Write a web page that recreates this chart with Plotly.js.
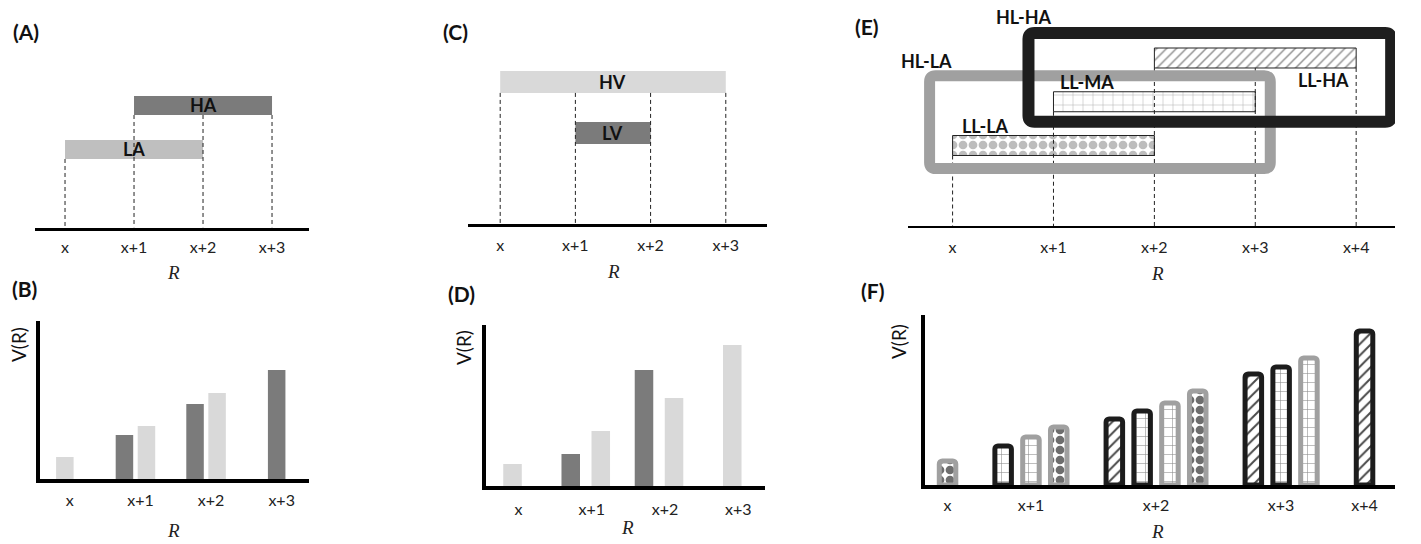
<!DOCTYPE html>
<html><head><meta charset="utf-8">
<script src="https://cdn.plot.ly/plotly-3.0.1.min.js"></script>
<style>html,body{margin:0;padding:0;background:#fff}#chart{width:1421px;height:544px}</style>
</head><body><div id="chart"></div>
<script>
// ---------------- data ----------------
const ticks4 = ['x','x+1','x+2','x+3'];
const ticks5 = ['x','x+1','x+2','x+3','x+4'];

// (A) R ranges covered
const aNames = ['LA','HA'];
const aStart = [0, 1];
const aEnd   = [2, 3];

// (B) V(R)
const bHA = [null, 44, 75, 109];
const bLA = [22, 53, 86, null];

// (C) R ranges covered
const cNames = ['LV','HV'];
const cStart = [1, 0];
const cEnd   = [2, 3];

// (D) V(R)
const dLV = [null, 32, 116, null];
const dHV = [22, 55, 88, 141];

// (E) R ranges covered by each low-level set
const eNames = ['LL-LA','LL-MA','LL-HA'];
const eStart = [0, 1, 2];
const eEnd   = [2, 3, 4];
// high-level groups and their members
const hlNames = ['HL-LA','HL-HA'];
const hlMembers = [['LL-LA','LL-MA'], ['LL-MA','LL-HA']];

// (F) V(R)
const fHA_LLHA = [null, null, 66, 111, 154];
const fHA_LLMA = [null, 39, 74, 118, null];
const fLA_LLMA = [null, 48, 82, 127, null];
const fLA_LLLA = [24, 58, 94, null, null];

// ---------------- helpers ----------------
const W = 1421, H = 544;
const px = x => x / W, py = y => 1 - y / H;
const dX = (l, r) => [l / W, r / W];
const dY = (t, b) => [1 - b / H, 1 - t / H];
const FONT = 'Lato, "Open Sans", sans-serif';
const DARK = '#7b7b7b', LIGHT = '#d9d9d9', MID = '#bfbfbf';
const TICKSIZE = 16, BOLDSIZE = 18;

const traces = [], shapes = [], annotations = [];
const layout = {
  width: W, height: H, margin: {l: 0, r: 0, t: 0, b: 0},
  paper_bgcolor: '#fff', plot_bgcolor: 'rgba(0,0,0,0)',
  showlegend: false, barmode: 'overlay', font: {family: FONT, color: '#111'},
  shapes, annotations
};

function setAxes(id, dom, xr, yr, tickv, tickt, opts) {
  layout['xaxis' + id] = {
    domain: dX(dom[0], dom[1]), range: xr, anchor: 'y' + id,
    showline: true, linecolor: '#000', linewidth: opts.xlw,
    showgrid: false, zeroline: false, ticks: '',
    tickvals: tickv, ticktext: tickt,
    tickfont: {size: TICKSIZE, family: FONT, color: '#222'},
    ticklabelshift: opts.shift || 0, ticklabelstandoff: opts.standoff || 0,
    fixedrange: true
  };
  layout['yaxis' + id] = opts.yline ? {
    domain: dY(dom[2], dom[3]), range: yr, anchor: 'x' + id,
    showline: true, linecolor: '#000', linewidth: opts.ylw,
    showgrid: false, zeroline: false, ticks: '', showticklabels: false, fixedrange: true
  } : {
    domain: dY(dom[2], dom[3]), range: yr, anchor: 'x' + id, visible: false, fixedrange: true
  };
}

function dashes(id, nTicks, starts, ends, bw, y0) {
  const xs = [], ys = [];
  for (let t = 0; t < nTicks; t++) {
    let top = -1;
    starts.forEach((s, i) => { if (s <= t && t <= ends[i]) top = Math.max(top, i); });
    if (top < 0) continue;
    xs.push(t, t, null); ys.push(top + 1 - bw / 2, y0, null);
  }
  traces.push({type: 'scatter', mode: 'lines', x: xs, y: ys, xaxis: 'x' + id, yaxis: 'y' + id,
    line: {color: '#222', width: 1, dash: '4px,3px'}, hoverinfo: 'skip'});
}

function rangeBars(id, names, starts, ends, colors, bw) {
  names.forEach((n, i) => {
    traces.push({type: 'bar', orientation: 'h', xaxis: 'x' + id, yaxis: 'y' + id,
      y: [i + 1], x: [ends[i] - starts[i]], base: [starts[i]], width: bw,
      marker: {color: colors[i], line: {width: 0}}, hoverinfo: 'skip'});
    annotations.push({xref: 'x' + id, yref: 'y' + id, x: (starts[i] + ends[i]) / 2, y: i + 1,
      text: '<b>' + n + '</b>', showarrow: false, xanchor: 'center', yanchor: 'middle',
      font: {size: BOLDSIZE, family: FONT, color: '#111'}});
  });
}

function groupedBars(id, series, colors, pitch, bw) {
  const n = series[0].length;
  const xs = series.map(() => []);
  for (let g = 0; g < n; g++) {
    const present = series.map((s, j) => s[g] != null ? j : -1).filter(j => j >= 0);
    present.forEach((j, k) => { xs[j][g] = g + (k - (present.length - 1) / 2) * pitch; });
    series.forEach((s, j) => { if (s[g] == null) xs[j][g] = null; });
  }
  series.forEach((s, j) => traces.push({type: 'bar', xaxis: 'x' + id, yaxis: 'y' + id,
    x: xs[j], y: s, width: bw, marker: {color: colors[j], line: {width: 0}}, hoverinfo: 'skip'}));
}

function rrect(x0, x1, y0, y1, rx, ry) {
  return `M${x0 + rx},${y0} L${x1 - rx},${y0} Q${x1},${y0} ${x1},${y0 + ry} L${x1},${y1 - ry} Q${x1},${y1} ${x1 - rx},${y1} L${x0 + rx},${y1} Q${x0},${y1} ${x0},${y1 - ry} L${x0},${y0 + ry} Q${x0},${y0} ${x0 + rx},${y0} Z`;
}

function label(text, x, y, size, extra) {
  annotations.push(Object.assign({xref: 'paper', yref: 'paper', x: px(x), y: py(y), text: text,
    showarrow: false, xanchor: 'center', yanchor: 'middle',
    font: {size: size, family: FONT, color: '#111'}}, extra || {}));
}

// ---------------- panel A ----------------
const A = {dom: [35, 309, 10, 227.5], xr: [-0.435, 3.536], yr: [-0.773, 4.17], bw: 0.432};
setAxes('', A.dom, A.xr, A.yr, ticks4.map((_, i) => i), ticks4, {xlw: 3, standoff: 3});
rangeBars('', aNames, aStart, aEnd, [MID, DARK], A.bw);
dashes('', ticks4.length, aStart, aEnd, A.bw, A.yr[0]);

// ---------------- panel B ----------------
const B = {dom: [40, 309, 321, 479], xr: [-0.352, 3.458], yr: [0, 158]};
setAxes('2', B.dom, B.xr, B.yr, ticks4.map((_, i) => i), ticks4, {xlw: 4, yline: true, ylw: 4, shift: 5, standoff: 4});
groupedBars('2', [bHA, bLA], [DARK, LIGHT], 0.312, 0.248);

// ---------------- panel C ----------------
const C = {dom: [468, 767, 10, 223.5], xr: [-0.428, 3.548], yr: [-0.775, 3.41], bw: 0.431};
setAxes('3', C.dom, C.xr, C.yr, ticks4.map((_, i) => i), ticks4, {xlw: 3, standoff: 5});
rangeBars('3', cNames, cStart, cEnd, [DARK, LIGHT], C.bw);
dashes('3', ticks4.length, cStart, cEnd, C.bw, C.yr[0]);

// ---------------- panel D ----------------
const D = {dom: [486, 765, 325, 486], xr: [-0.362, 3.447], yr: [0, 161]};
setAxes('4', D.dom, D.xr, D.yr, ticks4.map((_, i) => i), ticks4, {xlw: 4, yline: true, ylw: 4, shift: 6, standoff: 6});
groupedBars('4', [dLV, dHV], [DARK, LIGHT], 0.41, 0.253);

// ---------------- panel E ----------------
const E = {dom: [908, 1395, 10, 226], xr: [-0.442, 4.385], yr: [-0.84, 4.097], bw: 0.457};
setAxes('5', E.dom, E.xr, E.yr, ticks5.map((_, i) => i), ticks5, {xlw: 2, standoff: 6});
const ePx = (E.xr[1] - E.xr[0]) / (E.dom[1] - E.dom[0]);   // data units per px (x)
const eVy = (E.yr[1] - E.yr[0]) / (E.dom[3] - E.dom[2]);   // data units per px (y)
const ePatterns = [
  {shape: '.', fgcolor: '#bdbdbd', bgcolor: '#fff', size: 10, solidity: 0.6},
  {shape: '+', fgcolor: '#b0b0b0', bgcolor: '#fff', size: 10, solidity: 0.1},
  {shape: '/', fgcolor: '#8c8c8c', bgcolor: '#fff', size: 7, solidity: 0.2}
];
eNames.forEach((n, i) => {
  traces.push({type: 'bar', orientation: 'h', xaxis: 'x5', yaxis: 'y5',
    y: [i + 1], x: [eEnd[i] - eStart[i]], base: [eStart[i]], width: E.bw,
    marker: {color: '#fff', pattern: ePatterns[i], line: {width: 1, color: '#222'}}, hoverinfo: 'skip'});
});
dashes('5', ticks5.length, eStart, eEnd, E.bw, E.yr[0]);
// high-level boxes
const boxStyle = {
  'HL-LA': {color: '#a0a0a0', width: 11, pad: {l: 23, r: 15, t: 16, b: 13}, lab: {dx: -3, dy: 15}},
  'HL-HA': {color: '#1e1e1e', width: 12, pad: {l: 25, r: 35, t: 15, b: 10}, lab: {dx: -4, dy: 16}}
};
hlNames.forEach((h, k) => {
  const idx = hlMembers[k].map(m => eNames.indexOf(m));
  const st = boxStyle[h];
  const x0 = Math.min(...idx.map(i => eStart[i])) - st.pad.l * ePx;
  const x1 = Math.max(...idx.map(i => eEnd[i])) + st.pad.r * ePx;
  const y0 = Math.min(...idx.map(i => i + 1)) - E.bw / 2 - st.pad.b * eVy;
  const y1 = Math.max(...idx.map(i => i + 1)) + E.bw / 2 + st.pad.t * eVy;
  shapes.push({type: 'path', xref: 'x5', yref: 'y5', path: rrect(x0, x1, y0, y1, 6 * ePx, 6 * eVy),
    line: {color: st.color, width: st.width}, fillcolor: 'rgba(0,0,0,0)', layer: 'above'});
  annotations.push({xref: 'x5', yref: 'y5', x: x0, y: y1, text: '<b>' + h + '</b>', showarrow: false,
    xanchor: 'center', yanchor: 'middle', xshift: st.lab.dx, yshift: st.lab.dy,
    font: {size: BOLDSIZE, family: FONT, color: '#111'}});
});
// low-level bar names
const eLab = {
  'LL-LA': {side: 'start', dx: 7, dy: 10},
  'LL-MA': {side: 'start', dx: 5, dy: 10},
  'LL-HA': {side: 'end', dx: -5, dy: -12}
};
eNames.forEach((n, i) => {
  const s = eLab[n];
  const atStart = s.side === 'start';
  annotations.push({xref: 'x5', yref: 'y5', x: atStart ? eStart[i] : eEnd[i],
    y: atStart ? i + 1 + E.bw / 2 : i + 1 - E.bw / 2, text: '<b>' + n + '</b>', showarrow: false,
    xanchor: atStart ? 'left' : 'right', yanchor: 'middle', xshift: s.dx, yshift: s.dy,
    font: {size: BOLDSIZE, family: FONT, color: '#111'}});
});

// ---------------- panel F ----------------
const F = {dom: [925, 1395, 315, 485], xr: [-0.811, 16.096], yr: [0, 170]};
const fSeries = [fHA_LLHA, fHA_LLMA, fLA_LLMA, fLA_LLLA];
const fStyle = [
  {line: '#1c1c1c', pattern: {shape: '/', fgcolor: '#4a4a4a', bgcolor: '#fff', size: 8, solidity: 0.25}},
  {line: '#1c1c1c', pattern: {shape: '+', fgcolor: '#8a8a8a', bgcolor: '#fff', size: 9, solidity: 0.12}},
  {line: '#a0a0a0', pattern: {shape: '+', fgcolor: '#8a8a8a', bgcolor: '#fff', size: 9, solidity: 0.12}},
  {line: '#a0a0a0', pattern: {shape: '.', fgcolor: '#6e6e6e', bgcolor: '#fff', size: 10, solidity: 0.6}}
];
const fX = fSeries.map(() => []), fTicks = [];
let kk = 0;
for (let g = 0; g < ticks5.length; g++) {
  const us = [];
  fSeries.forEach((s, j) => {
    if (s[g] != null) { const u = kk + g; fX[j][g] = u; us.push(u); kk++; }
    else fX[j][g] = null;
  });
  fTicks.push(us.reduce((a, b) => a + b, 0) / us.length);
}
setAxes('6', F.dom, F.xr, F.yr, fTicks, ticks5, {xlw: 4, yline: true, ylw: 4, shift: 0, standoff: 3});
fSeries.forEach((s, j) => traces.push({type: 'bar', xaxis: 'x6', yaxis: 'y6', x: fX[j], y: s, width: 0.594,
  marker: {color: '#fff', pattern: fStyle[j].pattern, line: {width: 5, color: fStyle[j].line}, cornerradius: 3},
  hoverinfo: 'skip'}));

// ---------------- text labels ----------------
const panelLab = [['(A)', 26, 31], ['(B)', 24, 288], ['(C)', 455, 31], ['(D)', 461, 293], ['(E)', 867, 26], ['(F)', 872, 290]];
panelLab.forEach(p => label('<b>' + p[0] + '</b>', p[1], p[2], 21));
const rLab = [[173, 272], [173, 530], [613, 271], [627, 527], [1157, 273], [1157, 531]];
rLab.forEach(p => label('<i>R</i>', p[0], p[1], 19, {font: {size: 19, family: '"Liberation Serif", serif', color: '#222'}}));
const vLab = [[18, 345], [463, 348], [898, 342]];
vLab.forEach(p => label('V(R)', p[0], p[1], 19, {textangle: -90}));

Plotly.newPlot('chart', traces, layout, {staticPlot: true, displayModeBar: false});
</script>
</body></html>
